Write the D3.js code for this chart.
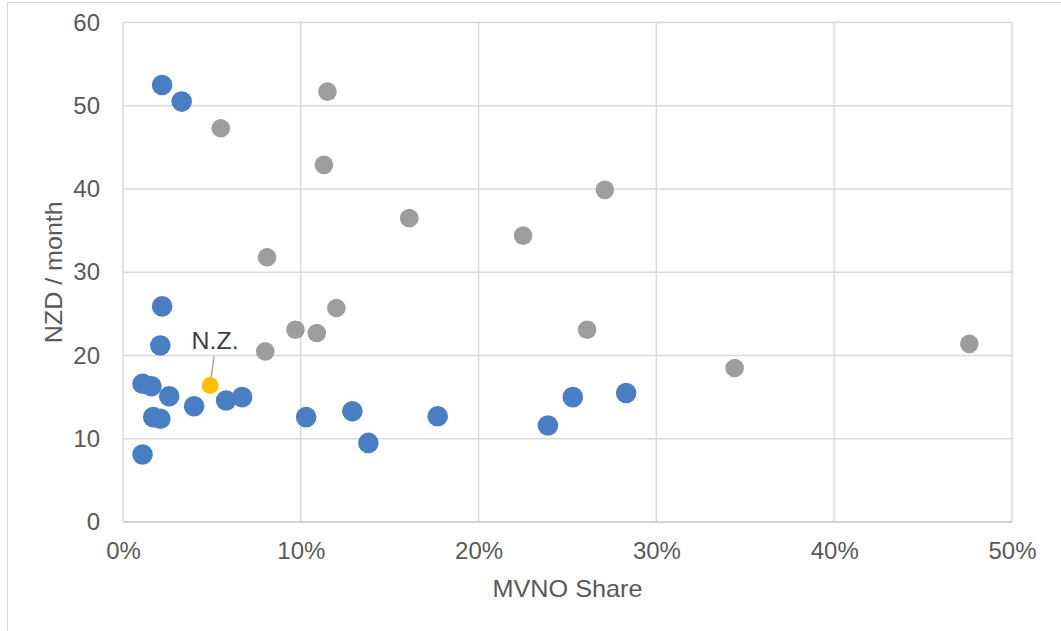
<!DOCTYPE html>
<html>
<head>
<meta charset="utf-8">
<script src="https://cdn.jsdelivr.net/npm/d3@7"></script>
<style>
  html, body { margin: 0; padding: 0; background: #fff; }
  svg { display: block; font-family: "Liberation Sans", Arial, sans-serif; }
</style>
</head>
<body>
<svg id="chart" width="1061" height="631"></svg>
<script>
// ---- Data ----
const xTicks = [0, 10, 20, 30, 40, 50];
const yTicks = [0, 10, 20, 30, 40, 50, 60];

// Gray series (MVNO share %, NZD/month)
const grayShare = [5.5, 8.1, 11.5, 11.3, 16.1, 22.5, 27.1, 8.0, 9.7, 10.9, 12.0, 26.1, 34.4, 47.6];
const grayPrice = [47.3, 31.8, 51.7, 42.9, 36.5, 34.4, 39.9, 20.5, 23.1, 22.7, 25.7, 23.1, 18.5, 21.4];

// Blue series
const blueShare = [2.2, 3.3, 2.2, 2.1, 1.1, 1.6, 2.6, 1.7, 2.1, 4.0, 5.8, 6.7, 1.1, 10.3, 12.9, 13.8, 17.7, 23.9, 25.3, 28.3];
const bluePrice = [52.5, 50.5, 25.9, 21.2, 16.6, 16.3, 15.1, 12.6, 12.4, 13.9, 14.6, 15.0, 8.1, 12.6, 13.3, 9.5, 12.7, 11.6, 15.0, 15.5];

// Highlighted point
const nzShare = [4.9];
const nzPrice = [16.4];
const nzLabel = ["N.Z."];

// ---- Layout ----
const svg = d3.select("#chart");
const mLeft = 123, mRight = 1012, mTop = 22.5, mBottom = 522;

const x = d3.scaleLinear().domain([0, 50]).range([mLeft, mRight]);
const y = d3.scaleLinear().domain([0, 60]).range([mBottom, mTop]);

// outer frame
svg.append("rect").attr("x", 7.5).attr("y", 2.5).attr("width", 1200).attr("height", 800)
  .attr("fill", "none").attr("stroke", "#d9d9d9").attr("stroke-width", 1);

// gridlines
const grid = svg.append("g");
grid.selectAll("line.h").data(yTicks.filter(d => d > 0)).enter().append("line")
  .attr("x1", mLeft).attr("x2", mRight).attr("y1", d => y(d)).attr("y2", d => y(d))
  .attr("stroke", "#d9d9d9").attr("stroke-width", 1.5);
grid.selectAll("line.v").data(xTicks).enter().append("line")
  .attr("y1", mTop).attr("y2", mBottom).attr("x1", d => x(d)).attr("x2", d => x(d))
  .attr("stroke", "#d9d9d9").attr("stroke-width", 1.5);

// bottom axis line
svg.append("line").attr("x1", mLeft).attr("x2", mRight).attr("y1", y(0)).attr("y2", y(0))
  .attr("stroke", "#c4c4c4").attr("stroke-width", 1.5);

// axes via d3 (labels only)
const xAxis = d3.axisBottom(x).tickValues(xTicks).tickFormat(d => d + "%").tickSize(0).tickPadding(20);
const gx = svg.append("g").attr("transform", `translate(0,${mBottom})`).call(xAxis);
gx.select(".domain").remove();
gx.selectAll("text").attr("font-size", 24).attr("fill", "#595959")
  .attr("font-family", "'Liberation Sans', Arial, sans-serif");

const yAxis = d3.axisLeft(y).tickValues(yTicks).tickSize(0).tickPadding(23);
const gy = svg.append("g").attr("transform", `translate(${mLeft},0)`).call(yAxis);
gy.select(".domain").remove();
gy.selectAll("text").attr("font-size", 24).attr("fill", "#595959")
  .attr("font-family", "'Liberation Sans', Arial, sans-serif");

// axis titles
svg.append("text").attr("x", (mLeft + mRight) / 2).attr("y", 597)
  .attr("text-anchor", "middle").attr("font-size", 24).attr("fill", "#595959")
  .attr("textLength", 150).attr("lengthAdjust", "spacingAndGlyphs")
  .text("MVNO Share");
svg.append("text").attr("transform", `translate(62,${(mTop + mBottom) / 2}) rotate(-90)`)
  .attr("text-anchor", "middle").attr("font-size", 24).attr("fill", "#595959")
  .attr("textLength", 142).attr("lengthAdjust", "spacingAndGlyphs")
  .text("NZD / month");

// points
const gray = grayShare.map((s, i) => ({ s, p: grayPrice[i] }));
const blue = blueShare.map((s, i) => ({ s, p: bluePrice[i] }));
const nz = nzShare.map((s, i) => ({ s, p: nzPrice[i], label: nzLabel[i] }));

svg.append("g").selectAll("circle").data(gray).enter().append("circle")
  .attr("cx", d => x(d.s)).attr("cy", d => y(d.p)).attr("r", 9.3)
  .attr("fill", "#9d9d9d");

svg.append("g").selectAll("circle").data(blue).enter().append("circle")
  .attr("cx", d => x(d.s)).attr("cy", d => y(d.p)).attr("r", 10.3)
  .attr("fill", "#4a7ec3");

// leader line + label for N.Z.
const nzG = svg.append("g");
nzG.selectAll("line").data(nz).enter().append("line")
  .attr("x1", d => x(d.s) + 1).attr("y1", d => y(d.p) - 8)
  .attr("x2", d => x(d.s) + 4).attr("y2", d => y(d.p) - 29)
  .attr("stroke", "#a6a6a6").attr("stroke-width", 1.5);
nzG.selectAll("circle").data(nz).enter().append("circle")
  .attr("cx", d => x(d.s)).attr("cy", d => y(d.p)).attr("r", 8.5)
  .attr("fill", "#ffc000");
nzG.selectAll("text").data(nz).enter().append("text")
  .attr("x", d => x(d.s) + 5).attr("y", d => y(d.p) - 36)
  .attr("text-anchor", "middle").attr("font-size", 24).attr("fill", "#404040")
  .attr("textLength", 47).attr("lengthAdjust", "spacingAndGlyphs")
  .text(d => d.label);
</script>
</body>
</html>
